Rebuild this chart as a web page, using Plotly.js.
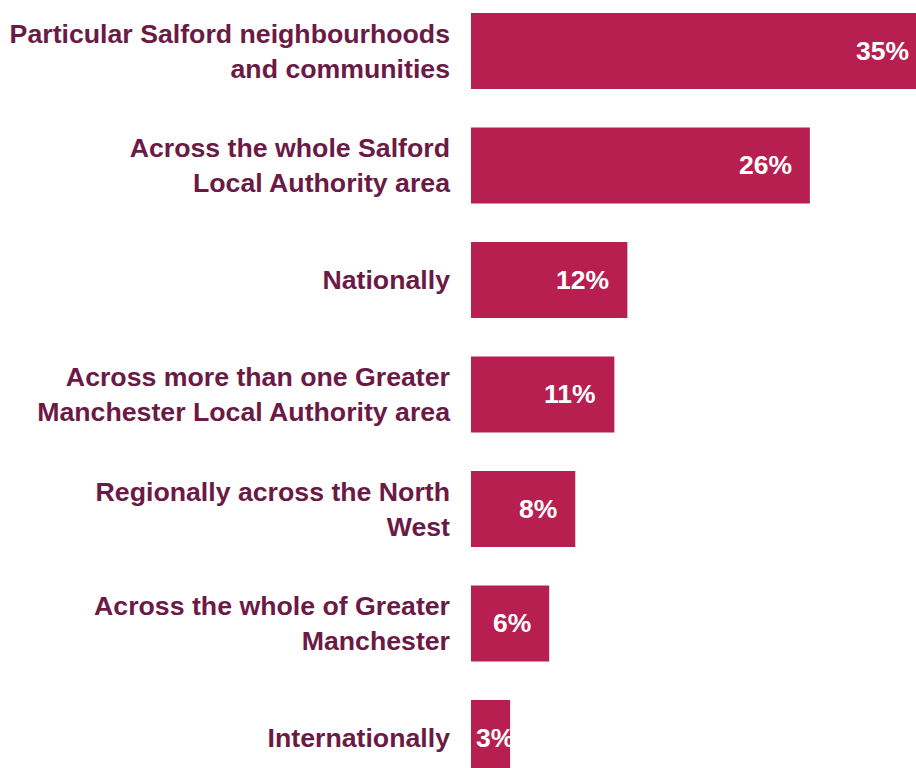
<!DOCTYPE html>
<html>
<head>
<meta charset="utf-8">
<script src="https://cdn.plot.ly/plotly-3.0.1.min.js"></script>
<style>
html,body{margin:0;padding:0;overflow:hidden;background:#fff;width:916px;height:768px;}
#chart{position:absolute;left:0;top:0;}
</style>
</head>
<body>
<div id="chart"></div>
<script>
var categories = [
  "Particular Salford neighbourhoods<br>and communities",
  "Across the whole Salford<br>Local Authority area",
  "Nationally",
  "Across more than one Greater<br>Manchester Local Authority area",
  "Regionally across the North<br>West",
  "Across the whole of Greater<br>Manchester",
  "Internationally"
];
var values = [35, 26, 12, 11, 8, 6, 3];
var labels = ["35%", "26%", "12%", "11%", "8%", "6%", "3%"];

var barColor = "#B71F50";
var labelColor = "#6B1A45";

var trace = {
  type: "bar",
  orientation: "h",
  y: categories,
  x: values,
  marker: {color: barColor, line: {width: 0}},
  hoverinfo: "none"
};

var annotations = values.map(function(v, i){
  var small = v < 5;
  return {
    x: small ? v / 2 : v,
    y: categories[i],
    xref: "x", yref: "y",
    text: "<b>" + labels[i] + "</b>",
    showarrow: false,
    xanchor: small ? "center" : "right",
    xshift: small ? 4 : -16,
    yanchor: "middle",
    font: {family: "Liberation Sans, Arial, sans-serif", size: 26.5, color: "#ffffff"}
  };
});

var layout = {
  width: 935,
  height: 768,
  margin: {l: 471, r: 0, t: 0, b: 0, pad: 0},
  paper_bgcolor: "#ffffff",
  plot_bgcolor: "#ffffff",
  showlegend: false,
  bargap: 0.336,
  xaxis: {
    range: [0, 35.6],
    visible: false,
    showgrid: false,
    zeroline: false,
    fixedrange: true
  },
  yaxis: {
    type: "category",
    categoryorder: "array",
    categoryarray: categories,
    range: [6.262, -0.445],
    showgrid: false,
    zeroline: false,
    showline: false,
    ticks: "",
    ticklabelstandoff: 20,
    tickfont: {family: "Liberation Sans, Arial, sans-serif", size: 26.7, color: labelColor, weight: "bold"},
    fixedrange: true
  },
  annotations: annotations
};

Plotly.newPlot("chart", [trace], layout, {displayModeBar: false, staticPlot: true});
</script>
</body>
</html>
